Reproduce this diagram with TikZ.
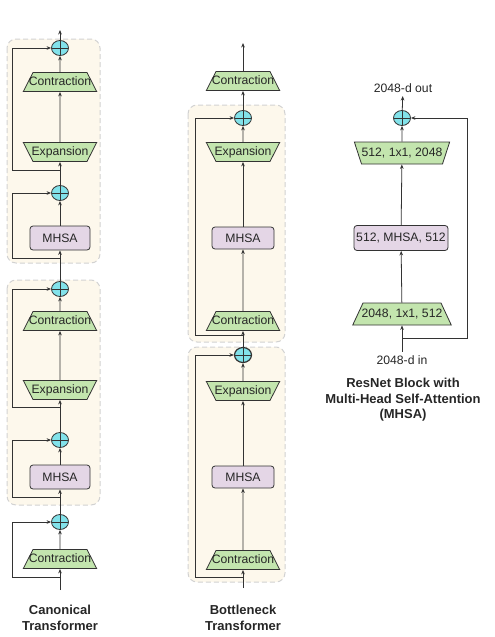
\documentclass[tikz,border=0pt]{standalone}
\usepackage{fontspec}
\setmainfont{Liberation Sans}
\usetikzlibrary{arrows.meta,shapes.geometric}

\definecolor{boxgreen}{HTML}{C3E5AE}
\definecolor{boxlilac}{HTML}{E4D6E6}
\definecolor{sumcyan}{HTML}{82E2EA}
\definecolor{grpfill}{HTML}{FDF8EC}
\definecolor{grpline}{HTML}{D2D2D2}
\definecolor{ink}{HTML}{333333}

\tikzset{
  trap/.style={trapezium,trapezium left angle=#1,trapezium right angle=#1,
    inner xsep=0pt,inner ysep=3.75pt,text height=9pt,text depth=2.5pt,
    draw=ink,fill=boxgreen,line width=0.8pt},
  body/.style={execute at begin node={\hbox to #1\bgroup\hss},
    execute at end node={\hss\egroup}},
  contr/.style={trap=63,body=54pt},
  expan/.style={contr,shape border rotate=180},
  attn/.style={rectangle,rounded corners=3,draw=ink,fill=boxlilac,line width=0.8pt,
    minimum width=60,minimum height=24,inner sep=0},
  plus/.style={ellipse,draw=ink,fill=sumcyan,line width=0.8pt,minimum width=17,
    minimum height=15,inner sep=0,
    path picture={\draw[ink,line width=0.9pt]
      (path picture bounding box.north) -- (path picture bounding box.south)
      (path picture bounding box.west) -- (path picture bounding box.east);}},
  grp/.style={draw=grpline,fill=grpfill,dashed,dash pattern=on 5pt off 3pt,
    line width=1pt,rounded corners=9},
  flow/.style={ink,line width=0.8pt,-{Stealth[length=4.5pt,width=3.6pt]}},
  title/.style={font=\fontsize{13}{15.5}\selectfont\bfseries,align=center},
}

\begin{document}
\begin{tikzpicture}[x=1pt,y=-1pt,font=\fontsize{12.2}{14}\selectfont,text=black!85]
\useasboundingbox (0,0) rectangle (495,637);

\draw[grp] (7,39) rectangle (100,263);
\draw[grp] (7,280) rectangle (100,505);
\draw[grp] (188,105) rectangle (285,342);
\draw[grp] (188,347) rectangle (285,582);

% canonical
\coordinate (lt) at (60,30);
\node[plus] (lp1) at (60,48) {};
\node[contr] (lc1) at (60,82) {Contraction};
\node[expan] (le1) at (60,152) {Expansion};
\node[plus] (lp2) at (60,193) {};
\node[attn] (lm1) at (60,238) {MHSA};
\node[plus] (lp3) at (60,289) {};
\node[contr] (lc2) at (60,321) {Contraction};
\node[expan] (le2) at (60,390) {Expansion};
\node[plus] (lp4) at (60,440) {};
\node[attn] (lm2) at (60,477) {MHSA};
\node[plus] (lp5) at (60,522) {};
\node[contr] (lc3) at (60,559) {Contraction};
\coordinate (lb) at (60,590);
\coordinate (ls1) at (60,170);
\coordinate (ls2) at (60,258);
\coordinate (ls3) at (60,407);
\coordinate (ls4) at (60,497);
\coordinate (ls5) at (60,577);

\draw[flow] (lp1) -- (lt);
\draw[flow] (lc1) -- (lp1);
\draw[flow] (le1) -- (lc1);
\draw[flow] (lp2) -- (le1);
\draw[flow] (lm1) -- (lp2);
\draw[flow] (lp3) -- (lm1);
\draw[flow] (lc2) -- (lp3);
\draw[flow] (le2) -- (lc2);
\draw[flow] (lp4) -- (le2);
\draw[flow] (lm2) -- (lp4);
\draw[flow] (lp5) -- (lm2);
\draw[flow] (lc3) -- (lp5);
\draw[flow] (lb) -- (lc3);
\draw[flow] (ls1) -- (12,170) |- (lp1);
\draw[flow] (ls2) -- (12,258) |- (lp2);
\draw[flow] (ls3) -- (12,407) |- (lp3);
\draw[flow] (ls4) -- (12,497) |- (lp4);
\draw[flow] (ls5) -- (12,577) |- (lp5);

\node[title] (lname) at (60,618) {Canonical\\Transformer};

% bottleneck
\coordinate (mt) at (243,43);
\node[contr] (mc0) at (243,81) {Contraction};
\node[plus] (mp1) at (243,118) {};
\node[expan] (me1) at (243,152) {Expansion};
\node[attn,minimum width=62,minimum height=22] (mm1) at (243,238) {MHSA};
\node[contr] (mc1) at (243,321) {Contraction};
\node[plus,line width=1.2pt] (mp2) at (243,355) {};
\node[expan] (me2) at (243,391) {Expansion};
\node[attn,minimum width=62,minimum height=22] (mm2) at (243,477) {MHSA};
\node[contr] (mc2) at (243,560) {Contraction};
\coordinate (mb) at (243,588);
\coordinate (ms1) at (243,335);
\coordinate (ms2) at (243,577);

\draw[flow] (mc0) -- (mt);
\draw[flow] (mp1) -- (mc0);
\draw[flow] (me1) -- (mp1);
\draw[flow] (mm1) -- (me1);
\draw[flow] (mc1) -- (mm1);
\draw[flow] (mp2) -- (mc1);
\draw[flow] (me2) -- (mp2);
\draw[flow] (mm2) -- (me2);
\draw[flow] (mc2) -- (mm2);
\draw[flow] (mb) -- (mc2);
\draw[flow] (ms1) -- (195,335) |- (mp1);
\draw[flow] (ms2) -- (195,577) |- (mp2);

\node[title] (mname) at (243,618) {Bottleneck\\Transformer};

% resnet block
\node (rout) at (403,88) {2048-d out};
\node[plus] (rp) at (402,118) {};
\node[trap=72,body=81pt,inner ysep=5.25pt,shape border rotate=180] (rx1) at (402,153)
  {512, 1x1, 2048};
\node[attn,minimum width=94,minimum height=25] (rm) at (401,238) {512, MHSA, 512};
\node[trap=65,body=78pt,inner ysep=5.25pt] (rx2) at (402,314) {2048, 1x1, 512};
\node (rin) at (402,360) {2048-d in};
\coordinate (rs) at (402,338);

\draw[flow] (rp) -- (rout);
\draw[flow] (rx1) -- (rp);
\draw[flow] (rm) -- (rx1);
\draw[flow] (rx2) -- (rm);
\draw[flow] (rin) -- (rx2);
\draw[flow] (rs) -- (467,338) |- (rp);

\node[title] (rname) at (403,400)
  {ResNet Block with\\Multi-Head Self-Attention\\(MHSA)};
\end{tikzpicture}
\end{document}
